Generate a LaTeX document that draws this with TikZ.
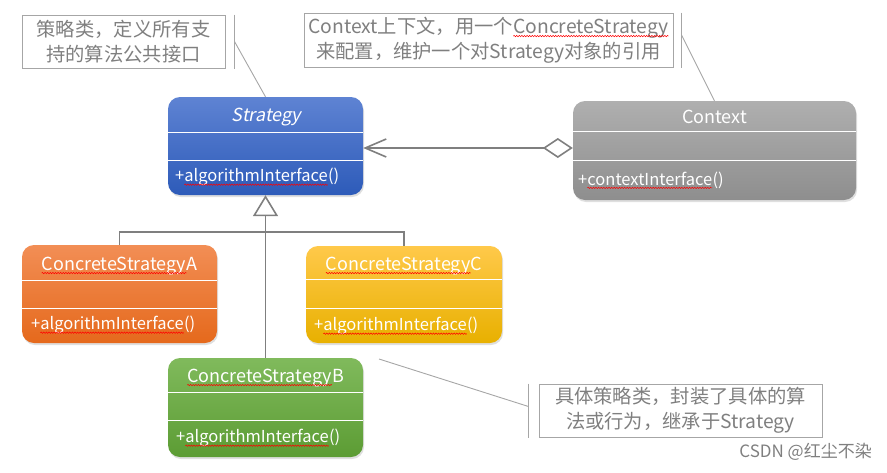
\documentclass[tikz,border=0pt]{standalone}
\usepackage{fontspec}
\setmainfont{Noto Sans CJK SC}[ItalicFont={Noto Sans CJK SC}, ItalicFeatures={FakeSlant=0.2}]
\usetikzlibrary{arrows.meta, calc, shadows, decorations.pathmorphing}

\definecolor{bluetop}{HTML}{5E83D3}
\definecolor{bluebot}{HTML}{2D5BB9}
\definecolor{graytop}{HTML}{AFAFAF}
\definecolor{graybot}{HTML}{8E8E8E}
\definecolor{orangetop}{HTML}{F28E55}
\definecolor{orangebot}{HTML}{E5691C}
\definecolor{yellowtop}{HTML}{FFC94A}
\definecolor{yellowbot}{HTML}{E8B000}
\definecolor{greentop}{HTML}{80BA5C}
\definecolor{greenbot}{HTML}{5C9C34}
\definecolor{linegray}{HTML}{7F7F7F}
\definecolor{notegray}{HTML}{A6A6A6}
\definecolor{textgray}{HTML}{7F7F7F}

% red spell-check wave under a word
\newcommand\squig[1]{\tikz[baseline=(sq.base)]{\node[inner sep=0pt, outer sep=0pt, minimum width=0pt, minimum height=0pt, draw=none, fill=none] (sq) {#1};
  \draw[red, line width=0.5pt, decorate, decoration={snake, amplitude=0.7pt, segment length=2.6pt}]
    ([yshift=-2.8pt]sq.base west) -- ([yshift=-2.8pt]sq.base east);}}

\begin{document}
\begin{tikzpicture}[x=1pt, y=-1pt,
    classbox/.style={rounded corners=12pt, minimum width=195pt, minimum height=98pt,
      drop shadow={opacity=0.25, shadow xshift=1pt, shadow yshift=-2pt}},
    sepline/.style={draw=white, line width=0.9pt},
    classtitle/.style={text=white, inner sep=0pt, font=\fontsize{18}{22}\selectfont},
    method/.style={text=white, inner sep=0pt, anchor=west, font=\fontsize{16.5}{20}\selectfont},
    note/.style={draw=notegray, line width=1pt, text=textgray, align=center, inner sep=0pt,
      font={\fontsize{19.3}{25}\selectfont\lineskiplimit=-20pt}},
    leader/.style={draw=notegray, line width=0.9pt},
    tree/.style={draw=linegray, line width=1.6pt}]
  \useasboundingbox (0,0) rectangle (887,472);

  % classes
  \node[classbox, top color=bluetop, bottom color=bluebot] (strategy) at (265.5,146) {};
  \node[classbox, minimum width=283pt, minimum height=99pt, top color=graytop, bottom color=graybot] (context) at (714.5,150.5) {};
  \node[classbox, top color=orangetop, bottom color=orangebot] (csA) at (119.5,294) {};
  \node[classbox, minimum width=196pt, minimum height=97pt, top color=yellowtop, bottom color=yellowbot] (csC) at (404,294.5) {};
  \node[classbox, minimum height=99pt, top color=greentop, bottom color=greenbot] (csB) at (265.5,407.5) {};

  \draw[sepline] ($(strategy.north west)+(0,36)$) -- ($(strategy.north east)+(0,36)$);
  \draw[sepline] ($(strategy.north west)+(0,64)$) -- ($(strategy.north east)+(0,64)$);
  \draw[sepline] ($(context.north west)+(0,31)$) -- ($(context.north east)+(0,31)$);
  \draw[sepline] ($(context.north west)+(0,60)$) -- ($(context.north east)+(0,60)$);
  \draw[sepline] ($(csA.north west)+(0,36)$) -- ($(csA.north east)+(0,36)$);
  \draw[sepline] ($(csA.north west)+(0,64)$) -- ($(csA.north east)+(0,64)$);
  \draw[sepline] ($(csC.north west)+(0,34)$) -- ($(csC.north east)+(0,34)$);
  \draw[sepline] ($(csC.north west)+(0,63)$) -- ($(csC.north east)+(0,63)$);
  \draw[sepline] ($(csB.north west)+(0,35)$) -- ($(csB.north east)+(0,35)$);
  \draw[sepline] ($(csB.north west)+(0,63)$) -- ($(csB.north east)+(0,63)$);

  \node[classtitle] (strategyname) at ($(strategy.north)+(1,20)$) {\textit{Strategy}};
  \node[classtitle] (contextname) at ($(context.north)+(0,16)$) {Context};
  \node[classtitle] (csAname) at ($(csA.north)+(0,21)$) {\squig{ConcreteStrategy}A};
  \node[classtitle] (csCname) at ($(csC.north)+(0,20)$) {\squig{ConcreteStrategy}C};
  \node[classtitle] (csBname) at ($(csB.north)+(0,20)$) {\squig{ConcreteStrategy}B};

  \node[method] (strategyop) at ($(strategy.south west)+(7,-18)$) {+\squig{algorithmInterface}()};
  \node[method] (contextop) at ($(context.south west)+(5,-20)$) {+\squig{contextInterface}()};
  \node[method] (csAop) at ($(csA.south west)+(9,-18)$) {+\squig{algorithmInterface}()};
  \node[method] (csCop) at ($(csC.south west)+(8,-17)$) {+\squig{algorithmInterface}()};
  \node[method] (csBop) at ($(csB.south west)+(8,-19)$) {+\squig{algorithmInterface}()};

  % relations
  \coordinate (hub) at (265.5,232);
  \draw[tree] (csA.north) |- (hub) -| (csC.north);
  \draw[tree, -{Triangle[open, length=21pt, width=25pt]}] (csB.north) -- (strategy.south);
  \draw[tree, {Diamond[open, length=30pt, width=20pt]}-{Straight Barb[length=21pt, width=18pt]}]
    (context.west |- 0,148) -- (strategy.east |- 0,148);

  % notes
  \node[note, minimum width=203pt, minimum height=53pt] (strategynote) at (123.5,41.5) {策略类，定义所有支\\持的算法公共接口};
  \node[note, minimum width=369pt, minimum height=54pt] (contextnote) at (488.5,40) {Context上下文，用一个\squig{ConcreteStrategy}\\来配置，维护一个对Strategy对象的引用};
  \node[note, minimum width=283pt, minimum height=53pt] (concretenote) at (680.5,410.5) {具体策略类，封装了具体的算\\法或行为，继承于Strategy};
  \coordinate (concretetip) at (379,359);

  \draw[leader] ([xshift=9pt]strategynote.north east) -- ([xshift=9pt]strategynote.south east);
  \draw[leader] ([xshift=9pt]strategynote.east) -- (strategy.north);
  \draw[leader] ([xshift=8pt]contextnote.north east) -- ([xshift=8pt]contextnote.south east);
  \draw[leader] ([xshift=8pt,yshift=5pt]contextnote.east) -- (context.north);
  \draw[leader] ([xshift=-10pt]concretenote.north west) -- ([xshift=-10pt]concretenote.south west);
  \draw[leader] ([xshift=-10pt,yshift=4pt]concretenote.west) -- (concretetip);

  \node[text=textgray, anchor=east, inner sep=0pt, font=\fontsize{17}{20}\selectfont] (watermark) at (872,452) {CSDN @红尘不染};
\end{tikzpicture}
\end{document}
